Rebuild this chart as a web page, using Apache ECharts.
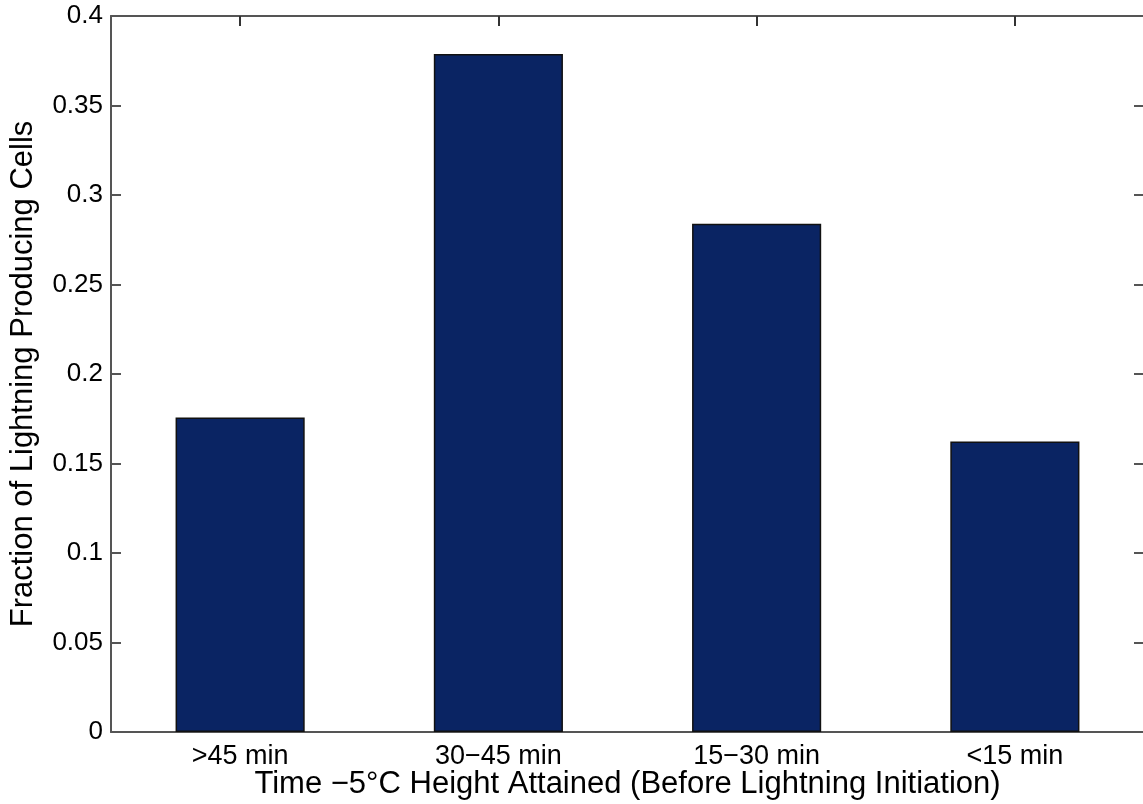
<!DOCTYPE html>
<html>
<head>
<meta charset="utf-8">
<script src="https://cdn.jsdelivr.net/npm/echarts@6/dist/echarts.min.js"></script>
<style>
html,body{margin:0;padding:0;background:#fff;}
#chart{width:1143px;height:804px;}
</style>
</head>
<body>
<div id="chart"></div>
<script>
const categories = ['>45 min', '30\u221245 min', '15\u221230 min', '<15 min'];
const fractions = [0.1757, 0.3788, 0.2840, 0.1623];
const yTicks = { min: 0, max: 0.4, interval: 0.05 };
const xTitle = 'Time \u22125\u00b0C Height Attained (Before Lightning Initiation)';
const yTitle = 'Fraction of Lightning Producing Cells';

const font = 'Liberation Sans, Arial, Helvetica, sans-serif';
const axisLine = { show: true, onZero: false, lineStyle: { color: '#555', width: 2 } };

const chart = echarts.init(document.getElementById('chart'), null, { renderer: 'canvas' });
chart.setOption({
  animation: false,
  backgroundColor: '#fff',
  grid: { left: 111, right: -1, top: 16, bottom: 72, containLabel: false, outerBoundsMode: 'none' },
  xAxis: [
    {
      type: 'category', data: categories, position: 'bottom', gridIndex: 0,
      axisLine: axisLine, axisTick: { show: false },
      axisLabel: { color: '#000', fontSize: 27, fontFamily: font, margin: 11 },
      name: xTitle, nameLocation: 'middle', nameGap: 37, nameMoveOverlap: false,
      nameTextStyle: { color: '#000', fontSize: 31, fontFamily: font }
    },
    {
      type: 'category', data: categories, position: 'top', gridIndex: 0,
      axisLine: axisLine,
      axisTick: { show: true, inside: true, length: 10, alignWithLabel: true, interval: 0, lineStyle: { color: '#333', width: 2 } },
      axisLabel: { show: false }
    }
  ],
  yAxis: [
    {
      type: 'value', min: yTicks.min, max: yTicks.max, interval: yTicks.interval, position: 'left',
      axisLine: axisLine, axisTick: { show: true, inside: true, length: 10, lineStyle: { color: '#555', width: 2 } },
      splitLine: { show: false },
      axisLabel: { color: '#000', fontSize: 26, fontFamily: font, margin: 8, formatter: v => String(+v.toFixed(2)) },
      name: yTitle, nameLocation: 'middle', nameGap: 72, nameRotate: 90, nameMoveOverlap: false,
      nameTextStyle: { color: '#000', fontSize: 31, fontFamily: font }
    },
    {
      type: 'value', min: yTicks.min, max: yTicks.max, interval: yTicks.interval, position: 'right',
      axisLine: axisLine, axisTick: { show: true, inside: true, length: 10, lineStyle: { color: '#555', width: 2 } },
      splitLine: { show: false }, axisLabel: { show: false }
    }
  ],
  series: [
    {
      type: 'bar', data: fractions, barWidth: '50%', xAxisIndex: 0, yAxisIndex: 0,
      itemStyle: { color: '#0a2463', borderColor: '#111', borderWidth: 1.5 }
    }
  ]
});
</script>
</body>
</html>
